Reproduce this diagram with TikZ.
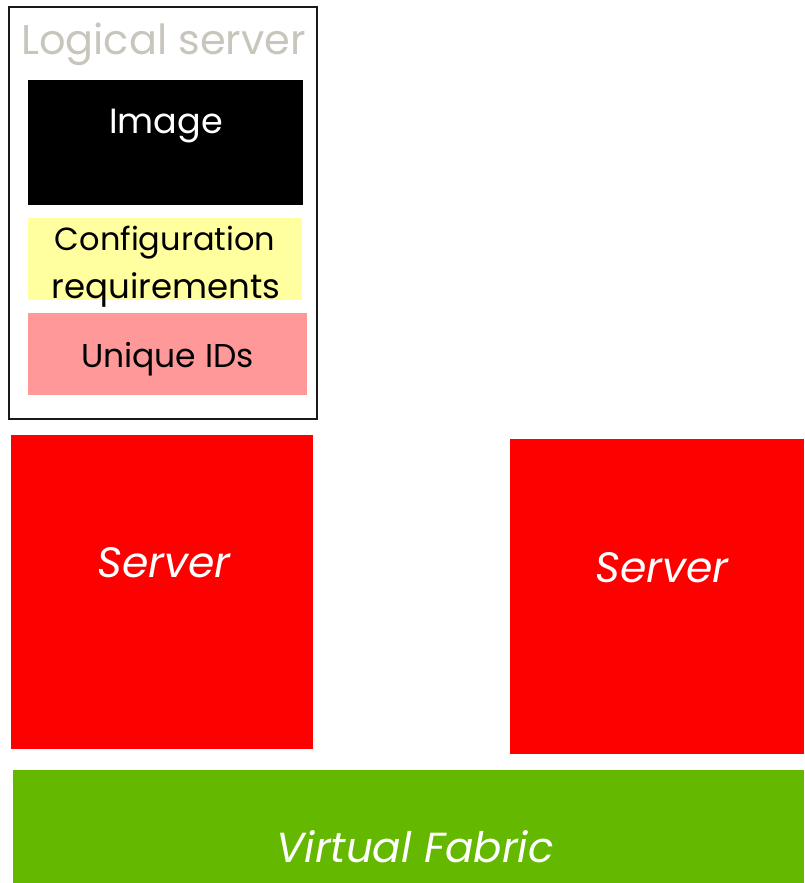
\documentclass[tikz,border=0pt]{standalone}
\usepackage{fontspec}
\setmainfont{Poppins}
\definecolor{titlegray}{HTML}{C8C6BC}
\definecolor{cfgyellow}{HTML}{FFFFA0}
\definecolor{idpink}{HTML}{FF9999}
\definecolor{srvred}{HTML}{FD0000}
\definecolor{fabgreen}{HTML}{64B800}
\begin{document}
\begin{tikzpicture}[x=1pt,y=-1pt,
  blk/.style={inner sep=0pt,outer sep=0pt,draw=none},
  lbl/.style={inner sep=0pt,anchor=base}]
\useasboundingbox (0,0) rectangle (804,883);
% logical server frame
\node[blk,draw=black!90,line width=1.6pt,minimum width=308pt,minimum height=412pt] (ls) at (163,213) {};
\node[lbl,text=titlegray,font=\fontsize{41.5}{41.5}\selectfont] (lstitle) at (163.5,55) {Logical server};
\node[blk,fill=black,minimum width=275pt,minimum height=125pt] (img) at (165.5,142.5) {};
\node[lbl,text=white,font=\fontsize{35}{35}\selectfont] (imgt) at (166,133) {Image};
\node[blk,fill=cfgyellow,minimum width=274pt,minimum height=82pt] (cfg) at (165,259) {};
\node[lbl,font=\fontsize{32}{32}\selectfont] (cfgt1) at (165,250) {Configuration};
\node[lbl,font=\fontsize{34}{34}\selectfont] (cfgt2) at (166,298) {requirements};
\node[blk,fill=idpink,minimum width=279pt,minimum height=82pt] (ids) at (167.5,354) {};
\node[lbl,font=\fontsize{33}{33}\selectfont] (idst) at (167.5,367) {Unique IDs};
% servers
\node[blk,fill=srvred,minimum width=302pt,minimum height=314pt] (s1) at (162,592) {};
\node[lbl,text=white,font=\itshape\fontsize{42.5}{42.5}\selectfont] (s1t) at (164,577) {Server};
\node[blk,fill=srvred,minimum width=294pt,minimum height=315pt] (s2) at (657,596.5) {};
\node[lbl,text=white,font=\itshape\fontsize{42.5}{42.5}\selectfont] (s2t) at (662,582) {Server};
% fabric
\node[blk,fill=fabgreen,minimum width=791pt,minimum height=113pt] (fab) at (408.5,826.5) {};
\node[lbl,text=white,font=\itshape\fontsize{42}{42}\selectfont] (fabt) at (415,862) {Virtual Fabric};
\end{tikzpicture}
\end{document}
